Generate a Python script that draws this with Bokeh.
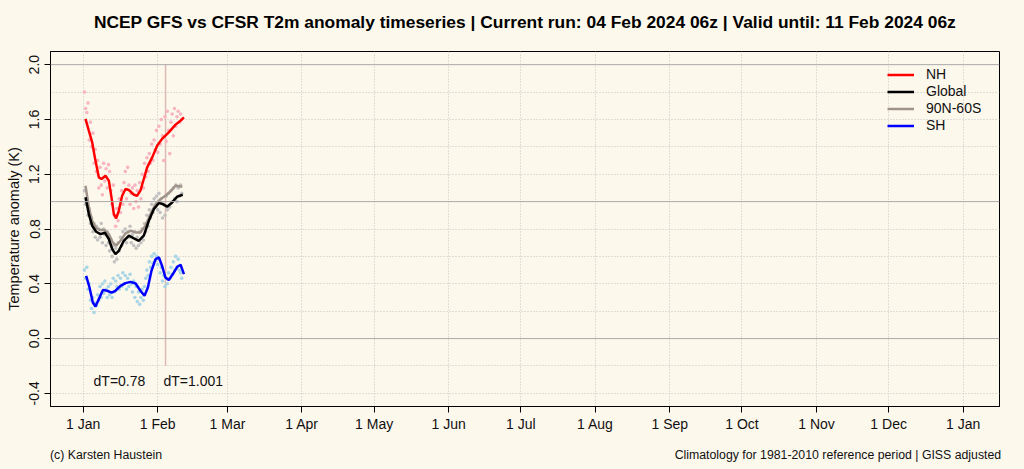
from bokeh.plotting import figure
from bokeh.models import (Range1d, FixedTicker, Span, Label, Legend, LegendItem,
                          NumeralTickFormatter, GlobalInlineStyleSheet, LinearAxis)
from bokeh.embed import file_html
from bokeh.resources import INLINE

BG = "#FDF8EC"
FONT = "Liberation Sans"

# ---------------- data ----------------
# x in days since 1 Jan 2024
month_ticks = [0, 31, 60, 91, 121, 152, 182, 213, 244, 274, 305, 335, 366]
month_labels = ["1 Jan", "1 Feb", "1 Mar", "1 Apr", "1 May", "1 Jun", "1 Jul",
                "1 Aug", "1 Sep", "1 Oct", "1 Nov", "1 Dec", "1 Jan"]
y_ticks = [-0.4, 0.0, 0.4, 0.8, 1.2, 1.6, 2.0]
y_grid = [-0.4, -0.2, 0.2, 0.4, 0.6, 0.8, 1.2, 1.4, 1.6, 1.8]
y_solid = [0.0, 1.0, 2.0]

run_day = 34.25          # 04 Feb 2024 06z
run_line_span = [-0.2, 2.0]

# smoothed series
nh_days = [0.96, 2.34, 3.73, 4.84, 6.5, 7.6, 9.27, 10.66, 11.77, 12.74, 13.7, 14.8, 16.2,
           17.6, 18.98, 21.1, 22.4, 23.8, 25.2, 26.6, 28.7, 30.8, 32.8, 35.6, 38.4, 40.5, 41.9]
nh_vals = [1.604, 1.518, 1.433, 1.323, 1.177, 1.165, 1.189, 1.153, 1.031, 0.909, 0.877, 0.933,
           1.043, 1.092, 1.085, 1.050, 1.043, 1.080, 1.165, 1.250, 1.323, 1.409, 1.458, 1.506,
           1.562, 1.591, 1.615]

gl_days = [0.96, 2.34, 3.73, 5.39, 7.2, 9.0, 10.66, 12.05, 13.4, 14.8, 16.9, 18.98, 21.1,
           23.1, 25.2, 27.3, 29.4, 31.5, 33.1, 34.9, 37.0, 39.1, 41.4]
gl_vals = [1.031, 0.909, 0.824, 0.780, 0.763, 0.773, 0.727, 0.654, 0.617, 0.641, 0.714, 0.751,
           0.731, 0.714, 0.751, 0.860, 0.946, 0.990, 0.982, 0.963, 0.994, 1.036, 1.050]

tr_days = [0.96, 2.34, 3.73, 5.39, 7.2, 9.0, 10.66, 12.33, 13.7, 15.5, 17.6, 19.7, 21.8,
           23.8, 25.9, 27.99, 30.1, 32.2, 34.2, 36.3, 38.4, 41.2]
tr_vals = [1.116, 0.958, 0.860, 0.807, 0.792, 0.792, 0.763, 0.702, 0.678, 0.714, 0.768, 0.787,
           0.775, 0.775, 0.824, 0.909, 0.982, 1.019, 1.043, 1.075, 1.116, 1.109]

sh_days = [1.23, 2.62, 4.0, 5.1, 6.5, 8.2, 9.97, 11.8, 13.4, 15.5, 17.6, 19.7, 21.8, 23.8,
           25.5, 26.9, 28.4, 30.1, 31.5, 32.8, 34.2, 35.6, 37.3, 39.1, 40.5, 41.9]
sh_vals = [0.458, 0.373, 0.263, 0.234, 0.288, 0.354, 0.349, 0.336, 0.349, 0.385, 0.405, 0.414,
           0.402, 0.349, 0.312, 0.373, 0.495, 0.580, 0.592, 0.531, 0.446, 0.427, 0.471, 0.524,
           0.539, 0.471]

# raw (unsmoothed) values, every half day
dot_days = [0.5, 1.0, 1.5, 2.0, 2.5, 3.0, 3.5, 4.0, 4.5, 5.0,
            5.5, 6.0, 6.5, 7.0, 7.5, 8.0, 8.5, 9.0, 9.5, 10.0,
            10.5, 11.0, 11.5, 12.0, 12.5, 13.0, 13.5, 14.0, 14.5, 15.0,
            15.5, 16.0, 16.5, 17.0, 17.5, 18.0, 18.5, 19.0, 19.5, 20.0,
            20.5, 21.0, 21.5, 22.0, 22.5, 23.0, 23.5, 24.0, 24.5, 25.0,
            25.5, 26.0, 26.5, 27.0, 27.5, 28.0, 28.5, 29.0, 29.5, 30.0,
            30.5, 31.0, 31.5, 32.0, 32.5, 33.0, 33.5, 34.0, 34.5, 35.0,
            35.5, 36.0, 36.5, 37.0, 37.5, 38.0, 38.5, 39.0, 39.5, 40.0,
            40.5, 41.0]
nh_dots = [1.80, 1.68, 1.65, 1.72, 1.45, 1.58, 1.40, 1.50, 1.28, 1.38,
           1.22, 1.30, 1.10, 1.25, 1.12, 1.05, 1.28, 1.15, 1.24, 1.10,
           1.27, 1.22, 1.08, 0.98, 1.12, 0.90, 0.82, 0.95, 0.86, 1.02,
           0.92, 1.08, 0.98, 1.14, 1.22, 1.02, 1.25, 1.12, 0.98, 1.06,
           1.10, 0.95, 1.12, 1.00, 1.08, 0.96, 1.14, 1.02, 1.20, 1.10,
           1.28, 1.18, 1.32, 1.22, 1.35, 1.28, 1.42, 1.30, 1.45, 1.38,
           1.52, 1.36, 1.55, 1.42, 1.60, 1.48, 1.30, 1.62, 1.44, 1.66,
           1.52, 1.35, 1.58, 1.64, 1.48, 1.68, 1.55, 1.62, 1.66, 1.58,
           1.64, 1.60]
gl_dots = [1.08, 0.98, 1.02, 0.90, 0.95, 0.84, 0.88, 0.78, 0.84, 0.74,
           0.82, 0.72, 0.80, 0.74, 0.84, 0.70, 0.80, 0.76, 0.68, 0.78,
           0.70, 0.64, 0.72, 0.60, 0.68, 0.56, 0.66, 0.58, 0.70, 0.64,
           0.74, 0.68, 0.78, 0.72, 0.80, 0.70, 0.78, 0.74, 0.82, 0.70,
           0.76, 0.68, 0.78, 0.66, 0.74, 0.68, 0.78, 0.70, 0.80, 0.72,
           0.84, 0.78, 0.90, 0.82, 0.94, 0.88, 0.98, 0.92, 1.02, 0.96,
           1.04, 0.94, 1.06, 0.92, 1.02, 0.88, 0.98, 0.90, 1.04, 0.94,
           1.06, 0.96, 1.08, 1.00, 1.10, 1.02, 1.12, 1.00, 1.10, 1.04,
           1.12, 1.06]
sh_dots = [0.50, 0.44, 0.52, 0.36, 0.40, 0.28, 0.22, 0.30, 0.19, 0.26,
           0.24, 0.32, 0.28, 0.38, 0.30, 0.40, 0.33, 0.42, 0.36, 0.30,
           0.38, 0.32, 0.40, 0.30, 0.44, 0.34, 0.42, 0.38, 0.46, 0.36,
           0.44, 0.38, 0.48, 0.40, 0.46, 0.36, 0.44, 0.38, 0.47, 0.40,
           0.34, 0.42, 0.30, 0.38, 0.27, 0.34, 0.25, 0.30, 0.36, 0.28,
           0.38, 0.44, 0.50, 0.46, 0.56, 0.52, 0.60, 0.55, 0.62, 0.57,
           0.60, 0.54, 0.58, 0.48, 0.52, 0.42, 0.46, 0.38, 0.44, 0.40,
           0.48, 0.44, 0.52, 0.47, 0.56, 0.50, 0.60, 0.52, 0.58, 0.50,
           0.48, 0.44]

series_names = ["NH", "Global", "90N-60S", "SH"]
dt_texts = ["dT=0.78", "dT=1.001"]
dt_x = [4.3, 33.4]
dt_y = -0.31

title_text = ("NCEP GFS vs CFSR T2m anomaly timeseries | Current run: 04 Feb 2024 06z | "
              "Valid until: 11 Feb 2024 06z")
ylabel_text = "Temperature anomaly (K)"
footer_left = "(c) Karsten Haustein"
footer_right = "Climatology for 1981-2010 reference period | GISS adjusted"
footer_pos = [9.5, 313.9]   # centre of each footer text, in days

# ---------------- figure ----------------
X0, X1 = -13.6, 381.1
Y0, Y1 = -0.496, 2.096
title_pos = (X0 + X1) / 2

p = figure(width=1024, height=469, output_backend="svg", toolbar_location=None,
           x_range=Range1d(X0, X1), y_range=Range1d(Y0, Y1),
           min_border_left=50, min_border_right=25, min_border_top=51, min_border_bottom=63)
p.background_fill_color = BG
p.border_fill_color = BG
p.outline_line_color = "black"
p.outline_line_width = 1
p.stylesheets = [GlobalInlineStyleSheet(css="body{background:%s;}" % BG)]

# main axes (configured before any extra axis is added)
xa = p.xaxis[0]
ya = p.yaxis[0]
xa.ticker = FixedTicker(ticks=month_ticks)
xa.major_label_overrides = {t: l for t, l in zip(month_ticks, month_labels)}
ya.ticker = FixedTicker(ticks=y_ticks)
ya.formatter = NumeralTickFormatter(format="0.0")
ya.major_label_orientation = "vertical"
for ax in (xa, ya):
    ax.axis_line_color = "black"
    ax.major_tick_line_color = "black"
    ax.major_tick_out = 6
    ax.major_tick_in = 0
    ax.minor_tick_line_color = None
    ax.major_label_text_font = FONT
    ax.major_label_text_font_size = "14px"
    ax.major_label_text_color = "#111111"
xa.major_label_standoff = 3
ya.major_label_standoff = 5
ya.axis_label = ylabel_text
ya.axis_label_text_font = FONT
ya.axis_label_text_font_size = "14.5px"
ya.axis_label_text_font_style = "normal"
ya.axis_label_text_color = "#111111"
ya.axis_label_standoff = 5

# grids
p.xgrid.ticker = FixedTicker(ticks=month_ticks)
p.ygrid.ticker = FixedTicker(ticks=y_grid)
for g in (p.xgrid, p.ygrid):
    g.grid_line_color = "#C4C4C4"
    g.grid_line_dash = "1 2"
    g.grid_line_width = 1


def bare_axis(ticks, labels, size, standoff, style="normal"):
    ax = LinearAxis(ticker=FixedTicker(ticks=ticks),
                    major_label_overrides={t: l for t, l in zip(ticks, labels)})
    ax.axis_line_color = None
    ax.major_tick_line_color = None
    ax.minor_tick_line_color = None
    ax.major_tick_out = 0
    ax.major_tick_in = 0
    ax.major_label_standoff = standoff
    ax.major_label_text_font = FONT
    ax.major_label_text_font_size = size
    ax.major_label_text_font_style = style
    ax.major_label_text_color = "#000000" if style == "bold" else "#111111"
    return ax


# title (carried by a bare axis above the frame, so its height does not push the frame)
p.add_layout(bare_axis([title_pos], [title_text], "17.4px", 20, "bold"), "above")
# footer texts carried by a bare extra axis below the x axis
p.add_layout(bare_axis(footer_pos, [footer_left, footer_right], "12.3px", 13), "below")

for yv in y_solid:
    p.add_layout(Span(location=yv, dimension="width", line_color="#ABABAB", line_width=1))

# current run marker
p.segment(x0=[run_day], y0=[run_line_span[0]], x1=[run_day], y1=[run_line_span[1]],
          line_color="#DDB9B1", line_width=1.5)

# raw dots
p.scatter(dot_days, nh_dots, size=3.6, fill_color="#F8B4C0", line_color=None)
p.scatter(dot_days, gl_dots, size=3.6, fill_color="#C2C2C2", line_color=None)
p.scatter(dot_days, sh_dots, size=3.6, fill_color="#A9D6E6", line_color=None)

# smoothed lines
r_nh = p.line(nh_days, nh_vals, line_color="#FF0000", line_width=2.5)
r_tr = p.line(tr_days, tr_vals, line_color="#A0948A", line_width=2.5)
r_gl = p.line(gl_days, gl_vals, line_color="#000000", line_width=2.5)
r_sh = p.line(sh_days, sh_vals, line_color="#0000FF", line_width=2.5)

legend = Legend(items=[LegendItem(label=series_names[0], renderers=[r_nh]),
                       LegendItem(label=series_names[1], renderers=[r_gl]),
                       LegendItem(label=series_names[2], renderers=[r_tr]),
                       LegendItem(label=series_names[3], renderers=[r_sh])],
                location=(837, 272.5))
legend.padding = 0
legend.margin = 0
legend.spacing = 0
legend.glyph_width = 27
legend.glyph_height = 17
legend.label_height = 17
legend.label_standoff = 12
legend.border_line_color = None
legend.background_fill_alpha = 0
legend.label_text_font = FONT
legend.label_text_font_size = "14px"
legend.label_text_color = "#111111"
p.add_layout(legend)

# dT annotations
for t, xv in zip(dt_texts, dt_x):
    p.add_layout(Label(x=xv, y=dt_y, text=t, text_font=FONT, text_font_size="14px",
                       text_align="left", text_baseline="middle", text_color="#111111"))

open("out.html", "w").write(file_html(p, INLINE))
